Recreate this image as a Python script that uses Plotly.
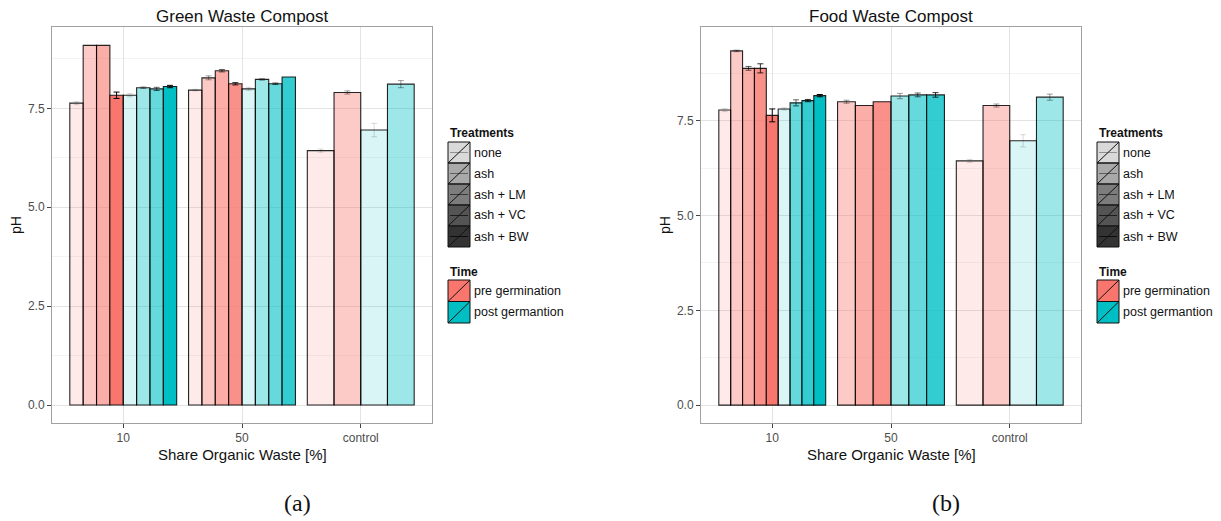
import plotly.graph_objects as go

# ---------------- data ----------------
categories = ["10", "50", "control"]
treatments = ["none", "ash", "ash + LM", "ash + VC", "ash + BW"]
time_labels = ["pre germination", "post germantion"]

# Green waste compost
green_cat = ["10"] * 8 + ["50"] * 8 + ["control"] * 4
green_time = (["pre"] * 4 + ["post"] * 4 + ["pre"] * 4 + ["post"] * 4
              + ["pre", "pre", "post", "post"])
green_treat = ["none", "ash", "ash + LM", "ash + BW",
               "none", "ash", "ash + LM", "ash + BW",
               "none", "ash", "ash + LM", "ash + VC",
               "none", "ash", "ash + LM", "ash + VC",
               "none", "ash", "none", "ash"]
green_ph = [7.63, 9.09, 9.09, 7.83, 7.83, 8.02, 7.99, 8.05,
            7.96, 8.27, 8.45, 8.12, 7.99, 8.23, 8.12, 8.29,
            6.43, 7.90, 6.95, 8.11]
green_err = [0.04, 0.0, 0.0, 0.08, 0.04, 0.02, 0.04, 0.03,
             0.02, 0.05, 0.03, 0.03, 0.04, 0.02, 0.02, 0.0,
             0.04, 0.04, 0.17, 0.09]

# Food waste compost
food_cat = ["10"] * 9 + ["50"] * 6 + ["control"] * 4
food_time = (["pre"] * 5 + ["post"] * 4 + ["pre"] * 3 + ["post"] * 3
             + ["pre", "pre", "post", "post"])
food_treat = ["none", "ash", "ash + LM", "ash + VC", "ash + BW",
              "none", "ash + LM", "ash + VC", "ash + BW",
              "ash", "ash + LM", "ash + VC",
              "ash", "ash + LM", "ash + VC",
              "none", "ash", "none", "ash"]
food_ph = [7.78, 9.34, 8.88, 8.88, 7.64, 7.81, 7.97, 8.03, 8.16,
           8.00, 7.90, 8.00, 8.15, 8.18, 8.18,
           6.44, 7.90, 6.97, 8.12]
food_err = [0.04, 0.02, 0.05, 0.12, 0.17, 0.03, 0.08, 0.03, 0.03,
            0.04, 0.0, 0.0, 0.07, 0.05, 0.06,
            0.04, 0.04, 0.16, 0.08]

y_ticks = [0.0, 2.5, 5.0, 7.5]
y_minor = [1.25, 3.75, 6.25, 8.75]

# ---------------- styling ----------------
OFF = 8  # default page body margin
W, H = 1221 - OFF, 521 - OFF
time_rgb = {"pre": (248, 118, 109), "post": (0, 191, 196)}
alpha_of = {"none": 0.15, "ash": 0.38, "ash + LM": 0.6, "ash + VC": 0.8, "ash + BW": 1.0}
FONT = "Liberation Sans, Arial, sans-serif"


def px(x):
    return (x - OFF) / W


def py(y):
    return 1 - (y - OFF) / H


fig = go.Figure()


def add_panel(cats, times, treats, vals, errs, xa, ya):
    counts = {c: cats.count(c) for c in categories}
    seen = {c: 0 for c in categories}
    for c, t, tr, v, e in zip(cats, times, treats, vals, errs):
        k = categories.index(c) + 1
        n = counts[c]
        i = seen[c]
        seen[c] += 1
        w = 0.9 / n
        xc = k - 0.45 + (i + 0.5) * w
        r, g, b = time_rgb[t]
        a = alpha_of[tr]
        fig.add_trace(go.Bar(
            x=[xc], y=[v], width=[w], xaxis=xa, yaxis=ya,
            marker=dict(color=f"rgba({r},{g},{b},{a})",
                        line=dict(color="rgba(0,0,0,0.85)", width=1.1)),
            error_y=dict(type="data", array=[e], visible=e > 0,
                         color=f"rgba(0,0,0,{a})", thickness=1, width=3),
            showlegend=False, name=f"{c} {t} {tr}",
        ))


add_panel(green_cat, green_time, green_treat, green_ph, green_err, "x", "y")
add_panel(food_cat, food_time, food_treat, food_ph, food_err, "x2", "y2")

panels = [
    dict(x0=52, x1=432, yr=[-0.455, 9.555], title="Green Waste Compost", cap="(a)"),
    dict(x0=701, x1=1081, yr=[-0.47, 9.97], title="Food Waste Compost", cap="(b)"),
]

axis_common = dict(showline=True, mirror=True, linecolor="#A0A0A0", linewidth=1,
                   ticks="outside", ticklen=4, tickwidth=1, tickcolor="#444444",
                   tickfont=dict(family=FONT, size=12, color="#4D4D4D"),
                   showgrid=True, gridcolor="#E3E3E3", gridwidth=1, zeroline=False)

layout_axes = {}
for j, p in enumerate(panels):
    sfx = "" if j == 0 else str(j + 1)
    layout_axes["xaxis" + sfx] = dict(
        axis_common, domain=[px(p["x0"]), px(p["x1"])], range=[0.4, 3.6],
        tickmode="array", tickvals=[1, 2, 3], ticktext=categories,
        anchor="y" + sfx, fixedrange=True)
    layout_axes["yaxis" + sfx] = dict(
        axis_common, domain=[py(423), py(27)], range=p["yr"],
        tickmode="array", tickvals=y_ticks, ticktext=[f"{t:.1f}" for t in y_ticks],
        anchor="x" + sfx, fixedrange=True,
        minor=dict(tickmode="array", tickvals=y_minor, showgrid=True,
                   gridcolor="#F3F3F3", gridwidth=1, ticks=""))

fig.update_layout(
    width=W, height=H, autosize=False,
    margin=dict(l=0, r=0, t=0, b=0),
    paper_bgcolor="white", plot_bgcolor="white",
    barmode="overlay", showlegend=False,
    **layout_axes,
)

annotations = []
shapes = []
leg_grey = (51, 51, 51)
for j, p in enumerate(panels):
    cx = (p["x0"] + p["x1"]) / 2
    annotations.append(dict(text=p["title"], x=px(cx), y=py(16), xref="paper", yref="paper",
                            showarrow=False, xanchor="center", yanchor="middle",
                            font=dict(family=FONT, size=17, color="#111111")))
    annotations.append(dict(text="Share Organic Waste [%]", x=px(cx), y=py(454),
                            xref="paper", yref="paper", showarrow=False,
                            xanchor="center", yanchor="middle",
                            font=dict(family=FONT, size=15, color="#111111")))
    annotations.append(dict(text="pH", x=px(p["x0"] - 36), y=py(225), xref="paper",
                            yref="paper", showarrow=False, textangle=-90,
                            xanchor="center", yanchor="middle",
                            font=dict(family=FONT, size=14, color="#111111")))
    annotations.append(dict(text=p["cap"], x=px(cx + 55), y=py(503), xref="paper",
                            yref="paper", showarrow=False, xanchor="center",
                            yanchor="middle",
                            font=dict(family="Liberation Serif, DejaVu Serif, serif",
                                      size=24, color="#111111")))
    # legend
    lx0 = p["x1"] + 16
    lx1 = lx0 + 22
    annotations.append(dict(text="<b>Treatments</b>", x=px(lx0), y=py(133), xref="paper",
                            yref="paper", showarrow=False, xanchor="left", yanchor="middle",
                            font=dict(family=FONT, size=12, color="#111111")))
    kh = 21
    for i, tr in enumerate(treatments):
        top = 142 + i * kh
        bot = top + kh
        a = alpha_of[tr]
        fill = f"rgba({leg_grey[0]},{leg_grey[1]},{leg_grey[2]},{min(1.0, a + 0.04)})"
        shapes.append(dict(type="rect", xref="paper", yref="paper",
                           x0=px(lx0), x1=px(lx1), y0=py(bot), y1=py(top),
                           fillcolor=fill, line=dict(color="#111111", width=1)))
        shapes.append(dict(type="line", xref="paper", yref="paper",
                           x0=px(lx0 + 2), x1=px(lx1 - 2), y0=py((top + bot) / 2),
                           y1=py((top + bot) / 2),
                           line=dict(color=f"rgba(0,0,0,{0.25 + 0.5 * a})", width=1)))
        shapes.append(dict(type="line", xref="paper", yref="paper",
                           x0=px(lx0), x1=px(lx1), y0=py(bot), y1=py(top),
                           line=dict(color="#111111", width=1)))
        annotations.append(dict(text=tr, x=px(lx1 + 2), y=py((top + bot) / 2),
                                xref="paper", yref="paper", showarrow=False,
                                xanchor="left", yanchor="middle",
                                font=dict(family=FONT, size=12.5, color="#111111")))
    annotations.append(dict(text="<b>Time</b>", x=px(lx0), y=py(272), xref="paper",
                            yref="paper", showarrow=False, xanchor="left", yanchor="middle",
                            font=dict(family=FONT, size=12, color="#111111")))
    for i, (tk, tl) in enumerate(zip(["pre", "post"], time_labels)):
        top = 280 + i * 21.5
        bot = top + 21.5
        r, g, b = time_rgb[tk]
        shapes.append(dict(type="rect", xref="paper", yref="paper",
                           x0=px(lx0), x1=px(lx1), y0=py(bot), y1=py(top),
                           fillcolor=f"rgb({r},{g},{b})", line=dict(color="#111111", width=1)))
        shapes.append(dict(type="line", xref="paper", yref="paper",
                           x0=px(lx0), x1=px(lx1), y0=py(bot), y1=py(top),
                           line=dict(color="#111111", width=1)))
        annotations.append(dict(text=tl, x=px(lx1 + 2), y=py((top + bot) / 2),
                                xref="paper", yref="paper", showarrow=False,
                                xanchor="left", yanchor="middle",
                                font=dict(family=FONT, size=12.5, color="#111111")))

fig.update_layout(annotations=annotations, shapes=shapes)
fig.write_html("out.html")
